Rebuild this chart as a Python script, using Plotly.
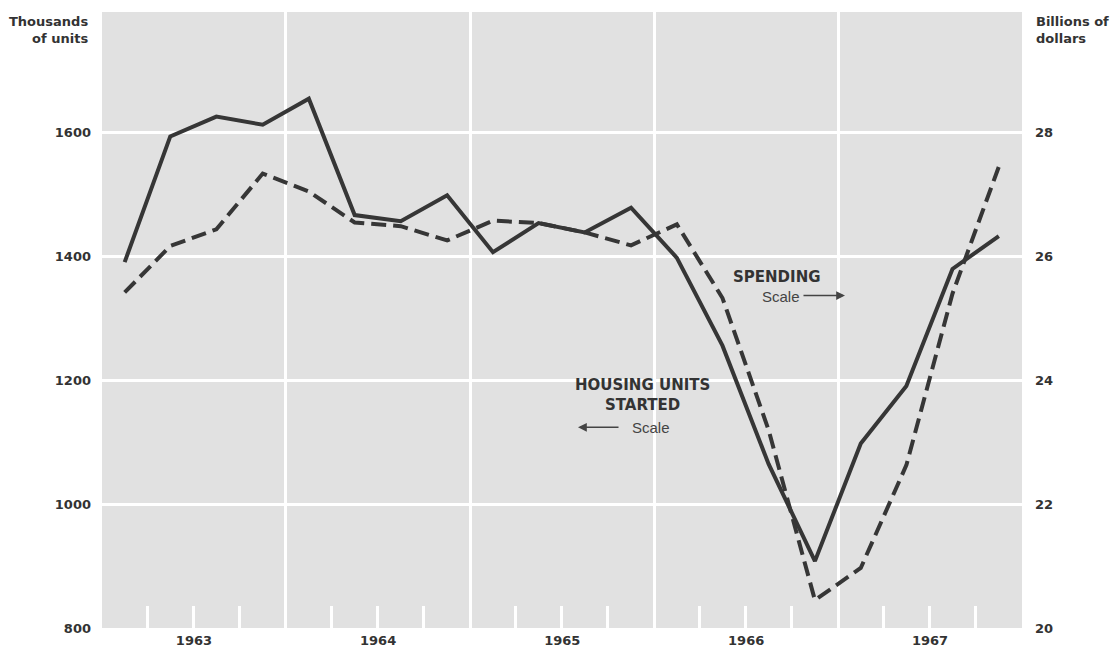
import pandas as pd
import plotly.graph_objects as go

# ---- data ----
quarters = ["1963Q1", "1963Q2", "1963Q3", "1963Q4",
            "1964Q1", "1964Q2", "1964Q3", "1964Q4",
            "1965Q1", "1965Q2", "1965Q3", "1965Q4",
            "1966Q1", "1966Q2", "1966Q3", "1966Q4",
            "1967Q1", "1967Q2", "1967Q3", "1967Q4"]
housing_starts = [1391, 1594, 1626, 1613,
                  1655, 1467, 1457, 1499,
                  1407, 1454, 1439, 1479,
                  1398, 1256, 1065, 908,
                  1098, 1191, 1380, 1433]          # thousands of units
spending = [25.42, 26.17, 26.44, 27.34,
            27.05, 26.55, 26.49, 26.26,
            26.58, 26.54, 26.39, 26.18,
            26.52, 25.33, 23.20, 20.45,
            20.97, 22.63, 25.40, 27.45]            # billions of dollars
left_ticks = [800, 1000, 1200, 1400, 1600]
right_ticks = [20, 22, 24, 26, 28]

per = pd.PeriodIndex(quarters, freq="Q")
x_mid = per.start_time + (per.end_time - per.start_time) / 2

BG = "#e1e1e1"
INK = "#363636"
FONT = "DejaVu Sans"

fig = go.Figure()
fig.add_trace(go.Scatter(x=x_mid, y=housing_starts, mode="lines",
                         line=dict(color=INK, width=4), yaxis="y",
                         showlegend=False, hoverinfo="skip"))
fig.add_trace(go.Scatter(x=x_mid, y=spending, mode="lines",
                         line=dict(color=INK, width=4, dash="15px,7px"),
                         yaxis="y2", showlegend=False, hoverinfo="skip"))

tickfont = dict(family=FONT, size=13, color="#333333", weight=700)

fig.update_layout(
    width=1111, height=649,
    margin=dict(l=102, r=89, t=12, b=21, autoexpand=False),
    paper_bgcolor="white", plot_bgcolor=BG,
    xaxis=dict(type="date", range=["1963-01-01", "1968-01-01"],
               tick0="1963-01-01", dtick="M12", tickformat="%Y",
               ticklabelmode="period", showgrid=True, gridcolor="white",
               gridwidth=2.5, zeroline=False, showline=False, ticks="",
               tickfont=tickfont, ticklabelstandoff=3, automargin=False,
               minor=dict(dtick="M3", ticks="inside", ticklen=22,
                          tickcolor="white", tickwidth=2.5, showgrid=False)),
    yaxis=dict(range=[800, 1795], tickvals=left_ticks, showgrid=True,
               gridcolor="white", gridwidth=3, zeroline=False, showline=False,
               ticks="", tickfont=tickfont, ticklabelstandoff=10,
               automargin=False),
    yaxis2=dict(range=[20, 29.95], tickvals=right_ticks, overlaying="y",
                side="right", showgrid=False, zeroline=False, showline=False,
                ticks="", tickfont=tickfont, ticklabelstandoff=12,
                automargin=False),
)

# patches of background colour that interrupt the grid behind the labels
fig.add_shape(type="rect", xref="paper", yref="paper", x0=0.789, x1=0.815,
              y0=0.512, y1=0.569, fillcolor=BG, line_width=0, layer="between")
fig.add_shape(type="rect", xref="paper", yref="paper", x0=0.485, x1=0.717,
              y0=0.297, y1=0.426, fillcolor=BG, line_width=0, layer="between")

ann_bold = dict(family=FONT, size=13, color="#333333", weight=700)
lab_bold = dict(family=FONT, size=15, color="#333333", weight=700)
ann_reg = dict(family="Liberation Sans", size=15, color="#444444")

annotations = [
    dict(text="Thousands<br>of units", xref="paper", yref="paper", x=-0.013, y=1.0,
         xanchor="right", yanchor="top", align="right", showarrow=False,
         font=ann_bold),
    dict(text="Billions of<br>dollars", xref="paper", yref="paper", x=1.013, y=1.0,
         xanchor="left", yanchor="top", align="left", showarrow=False,
         font=ann_bold),
    dict(text="SPENDING", xref="paper", yref="paper", x=0.7337, y=0.5705,
         xanchor="center", yanchor="middle", showarrow=False, font=lab_bold),
    dict(text="Scale", xref="paper", yref="paper", x=0.7152, y=0.538,
         xanchor="left", yanchor="middle", showarrow=False, font=ann_reg),
    dict(text="", xref="paper", yref="paper", x=0.8076, y=0.5397,
         ax=-43, ay=0, showarrow=True, arrowhead=2, arrowsize=1.1,
         arrowwidth=1.6, arrowcolor="#444444"),
    dict(text="HOUSING UNITS<br>STARTED", xref="paper", yref="paper", x=0.587, y=0.378,
         xanchor="center", yanchor="middle", showarrow=False, font=lab_bold),
    dict(text="Scale", xref="paper", yref="paper", x=0.574, y=0.3258,
         xanchor="left", yanchor="middle", showarrow=False, font=ann_reg),
    dict(text="", xref="paper", yref="paper", x=0.5174, y=0.3258,
         ax=42, ay=0, showarrow=True, arrowhead=2, arrowsize=1.1,
         arrowwidth=1.6, arrowcolor="#444444"),
]
fig.update_layout(annotations=annotations)

fig.write_html("out.html", config={"displayModeBar": False},
               post_script="document.body.style.margin='0';")
